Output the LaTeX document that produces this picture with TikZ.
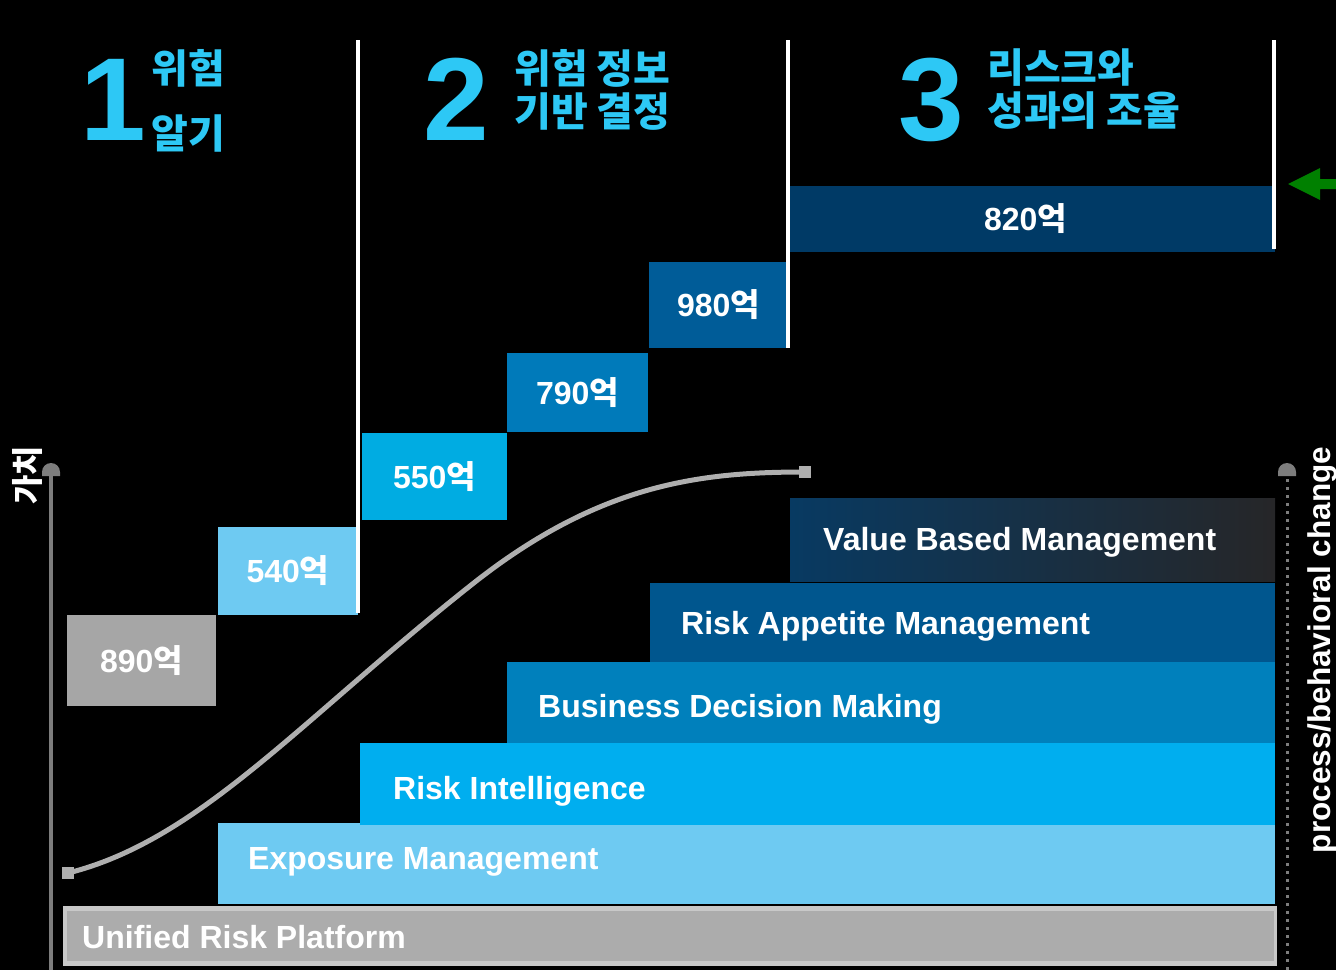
\documentclass[tikz,border=0pt]{standalone}
\usepackage{fontspec}
\setmainfont{Liberation Sans}
\newfontfamily\kr{Noto Sans CJK KR}
\usetikzlibrary{arrows.meta}
\definecolor{hdcyan}{RGB}{45,200,245}
\definecolor{c820}{RGB}{0,58,102}
\definecolor{c980}{RGB}{0,92,152}
\definecolor{c790}{RGB}{0,122,186}
\definecolor{c550}{RGB}{0,172,226}
\definecolor{c540}{RGB}{110,202,242}
\definecolor{c890}{RGB}{166,166,166}
\definecolor{vbmL}{RGB}{8,58,98}
\definecolor{vbmR}{RGB}{38,38,40}
\definecolor{ram}{RGB}{0,86,142}
\definecolor{bdm}{RGB}{0,128,188}
\definecolor{ri}{RGB}{0,174,239}
\definecolor{em}{RGB}{110,202,242}
\definecolor{urp}{RGB}{172,172,172}
\definecolor{urpedge}{RGB}{200,200,200}
\definecolor{axisgray}{RGB}{125,125,125}
\definecolor{curvegray}{RGB}{175,175,175}
\definecolor{arrowgreen}{RGB}{0,128,0}
\newcommand{\eok}[1]{{\bfseries #1}{\kr\bfseries 억}}
\begin{document}
\begin{tikzpicture}[x=1pt,y=-1pt,
  valbox/.style={inner sep=0pt, text=white, font=\fontsize{32}{34}\selectfont},
  barlabel/.style={anchor=west, inner sep=0pt, text=white, font=\fontsize{32}{34}\selectfont\bfseries},
  bignum/.style={anchor=base west, inner sep=0pt, text=hdcyan, font=\fontsize{118}{120}\selectfont\bfseries},
  headtxt/.style={anchor=west, inner sep=0pt, align=left, text=hdcyan, font=\kr\fontsize{40}{43}\selectfont\bfseries},
  divider/.style={white, line width=4pt},
  axislbl/.style={inner sep=0pt, text=white, rotate=90}]
\fill[black] (0,0) rectangle (1336,970);
\useasboundingbox (0,0) rectangle (1336,970);

% stacked capability bars
\fill[urpedge] (63,906) rectangle (1277,966);
\fill[urp] (67,911) rectangle (1274,961);
\fill[em] (218,823) rectangle (1275,904);
\fill[ri] (360,743) rectangle (1275,825);
\fill[bdm] (507,662) rectangle (1275,743);
\fill[ram] (650,583) rectangle (1275,662);
\shade[left color=vbmL, right color=vbmR] (790,498) rectangle (1275,581);

\node[barlabel] (lurp) at (82,937) {Unified Risk Platform};
\node[barlabel] (lem) at (248,862) {Exposure Management};
\node[barlabel] (lri) at (393,791) {Risk Intelligence};
\node[barlabel] (lbdm) at (538,709) {Business Decision Making};
\node[barlabel] (lram) at (681,626) {Risk Appetite Management};
\node[barlabel] (lvbm) at (823,542) {Value Based Management};

% value step boxes
\node[valbox, fill=c890, minimum width=149pt, minimum height=91pt] (b890) at (141.5,660.5) {\eok{890}};
\node[valbox, fill=c540, minimum width=140pt, minimum height=88pt] (b540) at (288,571) {\eok{540}};
\node[valbox, fill=c550, minimum width=145pt, minimum height=87pt] (b550) at (434.5,476.5) {\eok{550}};
\node[valbox, fill=c790, minimum width=141pt, minimum height=79pt] (b790) at (577.5,392.5) {\eok{790}};
\node[valbox, fill=c980, minimum width=139pt, minimum height=86pt] (b980) at (718.5,305) {\eok{980}};
\node[valbox, fill=c820, minimum width=485pt, minimum height=66pt] (b820) at (1032.5,219) {\eok{820}\hspace*{14pt}};

% phase dividers
\draw[divider] (358,40) -- (358,613);
\draw[divider] (788,40) -- (788,348);
\draw[divider] (1274,40) -- (1274,249);

% phase headings
\node[bignum] (n1) at (80,140) {1};
\node[headtxt] (h1) at (151,100.5) {위험\\[22pt]알기};
\node[bignum] (n2) at (423,140) {2};
\node[headtxt] (h2) at (514,89.5) {위험 정보\\기반 결정};
\node[bignum] (n3) at (898,140) {3};
\node[headtxt] (h3) at (987,89.5) {리스크와\\성과의 조율};

% green pointer
\fill[arrowgreen] (1288,184) -- (1320,168) -- (1320,179) -- (1336,179) -- (1336,189) -- (1320,189) -- (1320,200) -- cycle;

% axes with dome-shaped heads
\coordinate (ybot) at (51,970);
\coordinate (ytop) at (51,474);
\draw[axisgray, line width=4pt] (ybot) -- (ytop);
\fill[axisgray] (42,476) -- (42,472) arc[start angle=180, end angle=360, radius=9] -- (60,476) -- cycle;
\node[axislbl, font=\kr\fontsize{32}{34}\selectfont\bfseries] (lval) at (27,475) {가치};
\coordinate (pbot) at (1287,970);
\coordinate (ptop) at (1287,476);
\draw[axisgray, line width=3pt, dash pattern=on 3pt off 5pt] (pbot) -- (ptop);
\fill[axisgray] (1278,476) -- (1278,472) arc[start angle=180, end angle=360, radius=9] -- (1296,476) -- cycle;
\node[axislbl, font=\fontsize{31.5}{34}\selectfont\bfseries] (lproc) at (1322,650) {process/behavioral change};

% value S-curve
\coordinate (cs) at (68,873);
\coordinate (cm) at (475,582);
\coordinate (ce) at (805,472);
\draw[curvegray, line width=5pt] (cs) .. controls (200,840) and (300,720) .. (cm)
  .. controls (600,484) and (700,472) .. (ce);
\fill[curvegray] (cs) ++(-6,-6) rectangle ++(12,12);
\fill[curvegray] (ce) ++(-6,-6) rectangle ++(12,12);
\end{tikzpicture}
\end{document}
